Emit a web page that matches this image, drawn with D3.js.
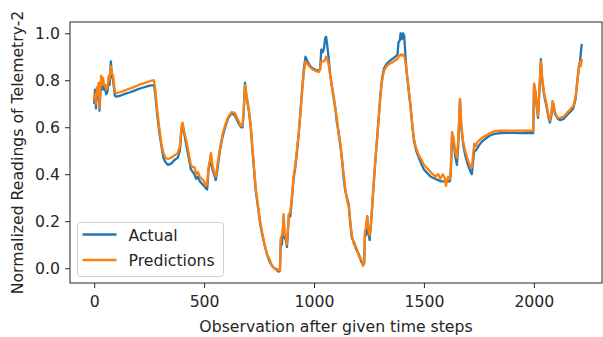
<!DOCTYPE html>
<html>
<head>
<meta charset="utf-8">
<script src="https://cdn.jsdelivr.net/npm/d3@7"></script>
<style>
  body { margin: 0; background: #fff; }
  svg { display: block; font-family: "DejaVu Sans", sans-serif; }
</style>
</head>
<body>
<figure id="chart" style="margin:0"></figure>
<script>
// observation index of each reading
const steps = [0, 4, 8, 12, 16, 20, 24, 28, 32, 36, 40, 45, 50, 55, 60, 66, 70, 76, 80, 86, 94, 100, 120, 140, 160, 180, 200, 220, 240, 260, 272, 278, 286, 296, 306, 315, 325, 336, 350, 365, 380, 390, 397, 402, 410, 420, 430, 440, 448, 456, 464, 472, 480, 490, 500, 508, 514, 520, 526, 531, 538, 545, 553, 562, 572, 584, 596, 610, 626, 640, 655, 668, 675, 680, 686, 692, 698, 705, 712, 720, 728, 735, 745, 755, 765, 775, 786, 797, 809, 820, 830, 839, 845, 849, 854, 858, 862, 866, 872, 877, 882, 886, 892, 900, 907, 915, 922, 930, 938, 945, 953, 961, 970, 983, 995, 1008, 1021, 1028, 1033, 1040, 1046, 1051, 1055, 1060, 1066, 1074, 1082, 1090, 1097, 1104, 1112, 1120, 1128, 1135, 1142, 1150, 1158, 1165, 1172, 1182, 1192, 1205, 1214, 1223, 1228, 1232, 1236, 1242, 1247, 1253, 1258, 1264, 1273, 1280, 1288, 1296, 1303, 1310, 1318, 1330, 1342, 1355, 1370, 1380, 1384, 1390, 1394, 1400, 1405, 1410, 1415, 1420, 1430, 1440, 1448, 1455, 1465, 1477, 1490, 1500, 1510, 1520, 1530, 1540, 1553, 1565, 1575, 1585, 1595, 1600, 1610, 1618, 1622, 1628, 1634, 1642, 1650, 1656, 1664, 1670, 1678, 1688, 1700, 1712, 1718, 1722, 1729, 1735, 1742, 1752, 1765, 1782, 1800, 1820, 1850, 1880, 1910, 1940, 1970, 1997, 2001, 2008, 2014, 2019, 2025, 2032, 2038, 2046, 2057, 2067, 2073, 2080, 2085, 2090, 2095, 2100, 2110, 2120, 2135, 2149, 2165, 2179, 2190, 2197, 2205, 2210, 2214, 2218]

const actual = [0.70, 0.76, 0.68, 0.75, 0.72, 0.77, 0.67, 0.74, 0.80, 0.76, 0.79, 0.76, 0.76, 0.74, 0.75, 0.80, 0.78, 0.88, 0.82, 0.80, 0.735, 0.73, 0.735, 0.742, 0.748, 0.755, 0.762, 0.768, 0.774, 0.778, 0.779, 0.74, 0.66, 0.58, 0.52, 0.47, 0.45, 0.44, 0.445, 0.46, 0.47, 0.50, 0.59, 0.61, 0.57, 0.52, 0.47, 0.42, 0.41, 0.40, 0.38, 0.39, 0.37, 0.36, 0.35, 0.34, 0.335, 0.42, 0.44, 0.48, 0.42, 0.40, 0.375, 0.43, 0.50, 0.56, 0.60, 0.64, 0.66, 0.65, 0.62, 0.60, 0.60, 0.66, 0.79, 0.74, 0.70, 0.66, 0.60, 0.50, 0.41, 0.33, 0.26, 0.19, 0.14, 0.10, 0.06, 0.03, 0.01, 0.00, -0.005, -0.015, -0.01, 0.12, 0.10, 0.16, 0.22, 0.13, 0.12, 0.09, 0.17, 0.23, 0.22, 0.30, 0.38, 0.43, 0.49, 0.567, 0.66, 0.75, 0.84, 0.90, 0.88, 0.86, 0.85, 0.845, 0.84, 0.85, 0.93, 0.92, 0.94, 0.98, 0.985, 0.95, 0.90, 0.82, 0.77, 0.72, 0.68, 0.62, 0.58, 0.52, 0.46, 0.38, 0.33, 0.30, 0.27, 0.19, 0.13, 0.11, 0.08, 0.057, 0.03, 0.014, 0.02, 0.156, 0.14, 0.22, 0.15, 0.12, 0.18, 0.25, 0.38, 0.47, 0.567, 0.66, 0.75, 0.81, 0.85, 0.87, 0.88, 0.89, 0.90, 0.91, 0.96, 0.97, 1.00, 0.975, 1.00, 0.99, 0.92, 0.85, 0.76, 0.68, 0.60, 0.54, 0.50, 0.47, 0.44, 0.42, 0.41, 0.40, 0.39, 0.385, 0.38, 0.375, 0.37, 0.37, 0.37, 0.37, 0.37, 0.37, 0.40, 0.57, 0.55, 0.48, 0.44, 0.52, 0.72, 0.60, 0.53, 0.48, 0.44, 0.41, 0.40, 0.44, 0.50, 0.50, 0.51, 0.525, 0.54, 0.553, 0.565, 0.572, 0.575, 0.576, 0.576, 0.575, 0.575, 0.575, 0.78, 0.74, 0.68, 0.64, 0.75, 0.89, 0.80, 0.74, 0.69, 0.64, 0.62, 0.65, 0.71, 0.69, 0.66, 0.65, 0.635, 0.63, 0.635, 0.65, 0.665, 0.68, 0.72, 0.79, 0.86, 0.88, 0.92, 0.955]

const predicted = [0.72, 0.74, 0.70, 0.77, 0.74, 0.79, 0.68, 0.77, 0.82, 0.78, 0.81, 0.78, 0.78, 0.76, 0.77, 0.82, 0.80, 0.86, 0.83, 0.82, 0.75, 0.745, 0.75, 0.757, 0.764, 0.771, 0.779, 0.786, 0.792, 0.798, 0.80, 0.76, 0.68, 0.60, 0.53, 0.49, 0.47, 0.465, 0.47, 0.48, 0.49, 0.52, 0.60, 0.62, 0.58, 0.54, 0.49, 0.44, 0.43, 0.43, 0.40, 0.41, 0.39, 0.38, 0.37, 0.35, 0.36, 0.43, 0.46, 0.49, 0.44, 0.41, 0.39, 0.45, 0.51, 0.57, 0.61, 0.645, 0.665, 0.66, 0.63, 0.605, 0.61, 0.67, 0.78, 0.74, 0.71, 0.66, 0.61, 0.51, 0.42, 0.34, 0.27, 0.20, 0.15, 0.10, 0.06, 0.04, 0.01, 0.00, -0.01, -0.005, -0.01, 0.13, 0.14, 0.15, 0.23, 0.14, 0.13, 0.10, 0.18, 0.23, 0.24, 0.31, 0.39, 0.44, 0.50, 0.57, 0.66, 0.74, 0.83, 0.88, 0.87, 0.855, 0.845, 0.84, 0.835, 0.845, 0.88, 0.88, 0.88, 0.89, 0.90, 0.89, 0.87, 0.82, 0.77, 0.73, 0.68, 0.64, 0.57, 0.53, 0.45, 0.40, 0.34, 0.29, 0.26, 0.20, 0.14, 0.10, 0.09, 0.05, 0.04, 0.01, 0.03, 0.16, 0.17, 0.22, 0.17, 0.14, 0.17, 0.26, 0.38, 0.47, 0.56, 0.66, 0.74, 0.80, 0.84, 0.86, 0.87, 0.875, 0.885, 0.89, 0.90, 0.905, 0.91, 0.905, 0.91, 0.905, 0.88, 0.85, 0.77, 0.68, 0.60, 0.55, 0.51, 0.48, 0.46, 0.44, 0.43, 0.42, 0.41, 0.40, 0.39, 0.40, 0.38, 0.40, 0.385, 0.35, 0.39, 0.38, 0.42, 0.58, 0.56, 0.50, 0.47, 0.55, 0.72, 0.61, 0.54, 0.50, 0.46, 0.43, 0.43, 0.47, 0.53, 0.52, 0.535, 0.545, 0.555, 0.565, 0.575, 0.583, 0.585, 0.586, 0.586, 0.586, 0.585, 0.585, 0.787, 0.75, 0.68, 0.65, 0.76, 0.88, 0.81, 0.75, 0.70, 0.65, 0.63, 0.66, 0.71, 0.70, 0.67, 0.655, 0.64, 0.64, 0.645, 0.66, 0.675, 0.69, 0.73, 0.79, 0.85, 0.88, 0.86, 0.89]

const xTicks = [0, 500, 1000, 1500, 2000]
const yTicks = [0.0, 0.2, 0.4, 0.6, 0.8, 1.0]
const seriesNames = ['Actual', 'Predictions']
const colors = ['#1f77b4', '#ff7f0e']

const W = 603, H = 337
const margin = { top: 22, right: 1, bottom: 54, left: 70 }
const width = W - margin.left - margin.right
const height = H - margin.top - margin.bottom
const fontSize = '15.7px'

const svg = d3.select('figure#chart')
    .append('svg')
    .attr('width', W)
    .attr('height', H)
const g = svg.append('g')
    .attr('transform', `translate(${margin.left}, ${margin.top})`)

// Scales
const xScale = d3.scaleLinear().domain([-110, 2310]).range([0, width])
const yScale = d3.scaleLinear().domain([-0.063, 1.048]).range([height, 0])

const line = d3.line()
    .x((d, i) => xScale(steps[i]))
    .y(d => yScale(d))

// Lines
g.append('path')
    .attr('d', line(actual))
    .attr('fill', 'none')
    .attr('stroke', colors[0])
    .attr('stroke-width', 2.3)
    .attr('stroke-linejoin', 'round')

g.append('path')
    .attr('d', line(predicted))
    .attr('fill', 'none')
    .attr('stroke', colors[1])
    .attr('stroke-width', 2.3)
    .attr('stroke-linejoin', 'round')

// Axes
const xAxis = d3.axisBottom(xScale)
    .tickValues(xTicks)
    .tickSizeInner(5)
    .tickSizeOuter(0)
    .tickPadding(8)
    .tickFormat(d3.format('d'))
const yAxis = d3.axisLeft(yScale)
    .tickValues(yTicks)
    .tickSizeInner(5)
    .tickSizeOuter(0)
    .tickPadding(5)
    .tickFormat(d3.format('.1f'))

const ax = g.append('g')
    .attr('transform', `translate(0, ${height})`)
    .call(xAxis)
const ay = g.append('g').call(yAxis)
ax.select('.domain').remove()
ay.select('.domain').remove()

g.selectAll('.tick text')
    .attr('font-size', fontSize)
    .attr('fill', '#262626')
    .attr('font-family', 'DejaVu Sans')
g.selectAll('.tick line').attr('stroke', '#262626')

// Frame
g.append('rect')
    .attr('width', width)
    .attr('height', height)
    .attr('fill', 'none')
    .attr('stroke', '#262626')
    .attr('stroke-width', 1)

// Axis labels
svg.append('text')
    .attr('x', margin.left + xScale(1100))
    .attr('y', 332)
    .attr('text-anchor', 'middle')
    .attr('font-size', fontSize)
    .attr('fill', '#262626')
    .text('Observation after given time steps')

svg.append('text')
    .attr('transform', `translate(23, ${margin.top + height / 2}) rotate(-90)`)
    .attr('text-anchor', 'middle')
    .attr('font-size', fontSize)
    .attr('fill', '#262626')
    .text('Normalized Readings of Telemetry-2')

// Legend
const legend = svg.append('g').attr('transform', 'translate(77.5, 222.5)')
legend.append('rect')
    .attr('width', 146)
    .attr('height', 54)
    .attr('rx', 3)
    .attr('fill', 'rgba(255,255,255,0.8)')
    .attr('stroke', '#d0d0d0')
seriesNames.forEach((name, i) => {
    const yy = 12 + i * 25.5
    legend.append('line')
        .attr('x1', 5).attr('x2', 39)
        .attr('y1', yy).attr('y2', yy)
        .attr('stroke', colors[i])
        .attr('stroke-width', 2.3)
    legend.append('text')
        .attr('x', 51)
        .attr('y', yy + 6)
        .attr('font-size', fontSize)
        .attr('fill', '#262626')
        .text(name)
})
</script>
</body>
</html>
